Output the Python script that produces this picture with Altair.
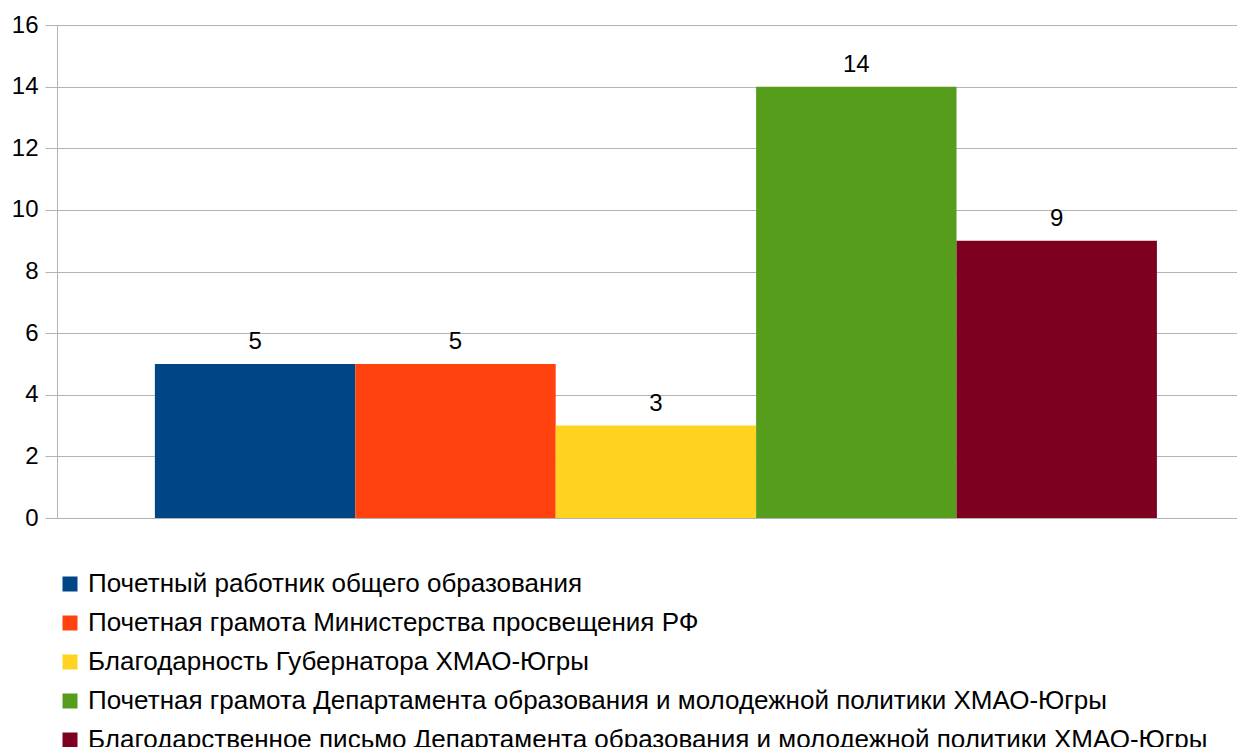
import altair as alt
import pandas as pd

categories = [
    "Почетный работник общего образования",
    "Почетная грамота Министерства просвещения РФ",
    "Благодарность Губернатора ХМАО-Югры",
    "Почетная грамота Департамента образования и молодежной политики ХМАО-Югры",
    "Благодарственное письмо Департамента образования и молодежной политики ХМАО-Югры",
]
values = [5, 5, 3, 14, 9]
colors = ["#004586", "#FF420E", "#FFD320", "#579D1C", "#7E0021"]
y_ticks = [0, 2, 4, 6, 8, 10, 12, 14, 16]

df = pd.DataFrame({"cat": categories, "val": values})

FONT = "Liberation Sans"

x = alt.X("cat:N", sort=categories, axis=None,
          scale=alt.Scale(domain=categories, paddingInner=0, paddingOuter=0.444, align=0.55))
y = alt.Y("val:Q", title=None,
          scale=alt.Scale(domain=[0, 16], nice=False),
          axis=alt.Axis(values=y_ticks, grid=True, gridColor="#b3b3b3",
                        domainColor="#b3b3b3", tickColor="#b3b3b3", tickSize=12,
                        labelFontSize=24, labelColor="#000000", labelFont=FONT,
                        labelPadding=7))

bars = alt.Chart(df).mark_bar().encode(
    x=x, y=y,
    color=alt.Color("cat:N", sort=categories,
                    scale=alt.Scale(domain=categories, range=colors),
                    legend=alt.Legend(title=None, orient="none", legendX=0, legendY=546,
                                      symbolType="square", symbolSize=225,
                                      symbolStrokeWidth=0, labelFontSize=26,
                                      labelFont=FONT, labelColor="#000000",
                                      labelLimit=1200, rowPadding=13, labelOffset=5,
                                      direction="vertical")),
)

labels = alt.Chart(df).mark_text(dy=-22, fontSize=24, font=FONT, color="#000000").encode(
    x=x, y=y, text="val:Q"
)

chart = (bars + labels).properties(
    width=1180, height=493,
    autosize=alt.AutoSizeParams(type="none"),
    padding={"left": 49, "top": 17, "right": 0, "bottom": 236},
).configure_view(stroke=None)

chart.save("out.html", embed_options={"renderer": "svg", "actions": False})
